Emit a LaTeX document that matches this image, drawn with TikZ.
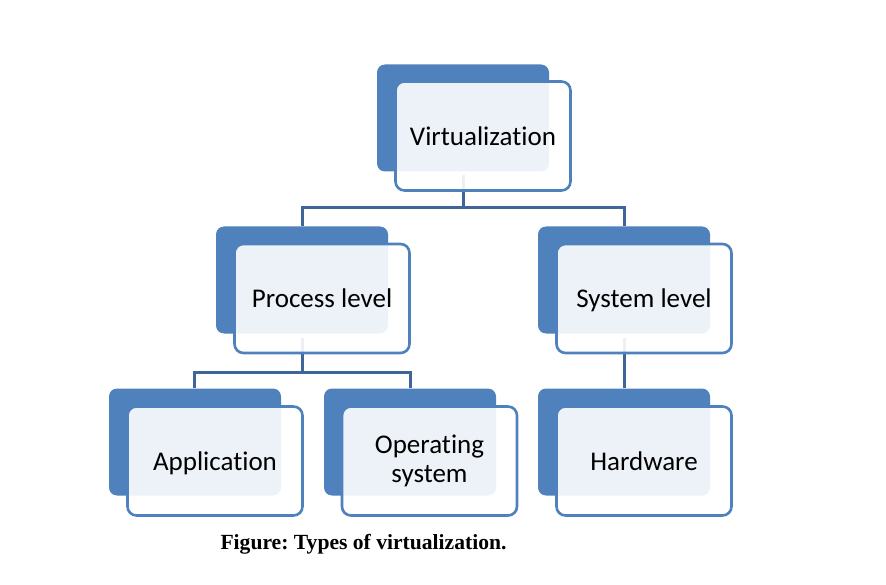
\documentclass[tikz,border=0pt]{standalone}
\usepackage{fontspec}
\setmainfont[Ligatures={NoCommon}]{Carlito}
\newfontfamily\capfont{Liberation Serif}
\usetikzlibrary{calc}
\definecolor{accblue}{HTML}{4F81BD}
\definecolor{connblue}{HTML}{3F6699}
\frenchspacing
\begin{document}
\begin{tikzpicture}[x=1pt,y=-1pt,
  backbox/.style={fill=accblue, rounded corners=8pt, minimum width=172pt, minimum height=107pt, inner sep=0pt},
  frontbox/.style={fill=white, fill opacity=0.9, text opacity=1, draw=accblue, draw opacity=1, line width=2.6pt, rounded corners=9pt,
     minimum width=175pt, minimum height=109pt, inner sep=0pt, align=center,
     font=\fontsize{27}{29}\selectfont},
  oneline/.style={text height=24pt, text depth=5pt},
  conn/.style={draw=connblue, line width=3pt},
  captext/.style={font=\capfont\bfseries\fontsize{21.6}{24}\selectfont, inner sep=0pt}]
\useasboundingbox (0,0) rectangle (886,585);
% junction coordinates
\coordinate (j1) at (0,208);
\coordinate (j2) at (0,372);
% connectors first (lie beneath the boxes)
\coordinate (vs) at (463,175);
\coordinate (ps) at (302,338);
\coordinate (ss) at (624,338);
\draw[conn] (vs) -- (vs |- j1);
\draw[conn] (302,208) -- (624,208);
\draw[conn] (302,206.5) -- (302,226);
\draw[conn] (624,206.5) -- (624,226);
\draw[conn] (ps) -- (ps |- j2);
\draw[conn] (194,372) -- (410,372);
\draw[conn] (194,370.5) -- (194,388);
\draw[conn] (410,370.5) -- (410,388);
\draw[conn] (ss) -- (624,388);
% back boxes
\node[backbox] (vb) at (463,118) {};
\node[backbox] (pb) at (302,280) {};
\node[backbox] (sb) at (624,280) {};
\node[backbox] (ab) at (195,442) {};
\node[backbox] (ob) at (410,442) {};
\node[backbox] (hb) at (624,442) {};
% front boxes
\node[frontbox,oneline] (vf) at (483,136) {Virtualization};
\node[frontbox,oneline] (pf) at (322,298.5) {Process level};
\node[frontbox,oneline] (sf) at (644,298.5) {System level};
\node[frontbox,oneline] (af) at (215,461) {Application};
\node[frontbox] (of) at (429.5,461) {Operating\\system};
\node[frontbox,oneline] (hf) at (644,461) {Hardware};
% caption
\node[captext] (cap) at (363.5,544) {Figure: Types of virtualization.};
\end{tikzpicture}
\end{document}
